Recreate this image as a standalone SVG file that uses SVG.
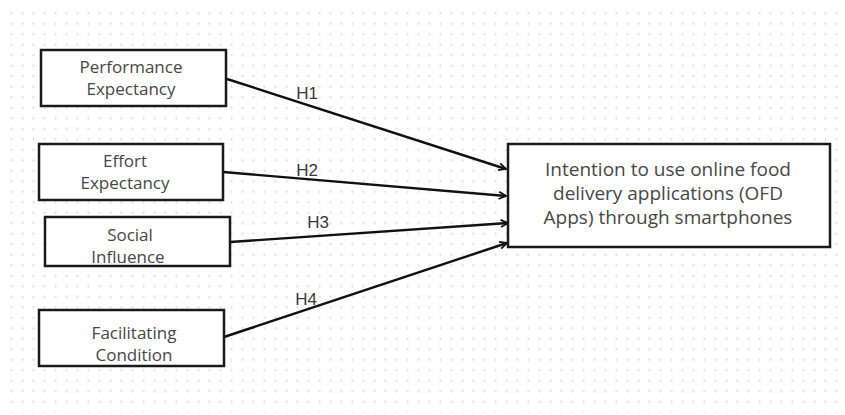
<svg xmlns="http://www.w3.org/2000/svg" width="845" height="415" viewBox="0 0 845 415">
<defs>
<pattern id="dots" x="6" y="8" width="11" height="10.5" patternUnits="userSpaceOnUse">
<circle cx="5.5" cy="5.25" r="1.2" fill="#e2e2e2"/>
</pattern>
<marker id="arr" viewBox="0 0 10 10" refX="9" refY="5" markerWidth="9" markerHeight="9" markerUnits="userSpaceOnUse" orient="auto">
<path d="M1,1 L9,5 L1,9" fill="none" stroke="#111" stroke-width="2"/>
</marker>
</defs>
<style>
.box{fill:#fff;stroke:#1a1a1a;stroke-width:2.5}
.t{font-family:"Open Sans","Liberation Sans",sans-serif;font-size:17px;fill:#474747;text-anchor:middle}
.tb{font-family:"Open Sans","Liberation Sans",sans-serif;font-size:19px;fill:#474747;text-anchor:middle}
.lbl{font-family:"Liberation Sans",Arial,sans-serif;font-size:17px;fill:#3a3a3a;text-anchor:middle}
.c{stroke:#111;stroke-width:2.4;fill:none;marker-end:url(#arr)}
</style>
<rect width="845" height="415" fill="#fff"/>
<rect x="6" y="8" width="836" height="404" fill="url(#dots)"/>
<g id="connectors">
<line class="c" x1="227" y1="79" x2="506" y2="169"/>
<line class="c" x1="223" y1="172" x2="506" y2="196"/>
<line class="c" x1="230" y1="242" x2="508" y2="223"/>
<line class="c" x1="224" y1="337" x2="507" y2="243"/>
<text class="lbl" x="307" y="99">H1</text>
<text class="lbl" x="307" y="176">H2</text>
<text class="lbl" x="318" y="228">H3</text>
<text class="lbl" x="306" y="305">H4</text>
</g>
<g id="pe">
<rect class="box" x="41" y="50" width="185" height="56"/>
<text class="t" x="131" y="73">Performance</text>
<text class="t" x="131" y="95">Expectancy</text>
</g>
<g id="ee">
<rect class="box" x="39" y="144" width="184" height="56"/>
<text class="t" x="125" y="167">Effort</text>
<text class="t" x="125" y="189">Expectancy</text>
</g>
<g id="si">
<rect class="box" x="45" y="217" width="185" height="49"/>
<text class="t" x="130" y="241">Social</text>
<text class="t" x="128" y="263">Influence</text>
</g>
<g id="fc">
<rect class="box" x="39" y="310" width="185" height="56"/>
<text class="t" x="134" y="339">Facilitating</text>
<text class="t" x="134" y="361">Condition</text>
</g>
<g id="intention">
<rect class="box" x="508" y="144" width="322" height="103"/>
<text class="tb" x="668" y="176">Intention to use online food</text>
<text class="tb" x="668" y="200">delivery applications (OFD</text>
<text class="tb" x="668" y="224">Apps) through smartphones</text>
</g>
</svg>
